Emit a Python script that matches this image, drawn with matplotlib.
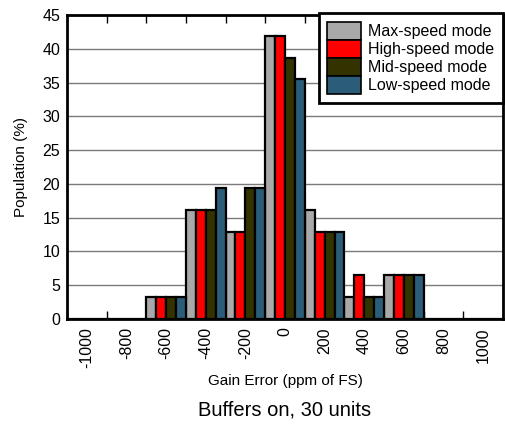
import numpy as np
import matplotlib.pyplot as plt

plt.rcParams['font.family'] = ['Liberation Sans', 'DejaVu Sans']

# Gain error bins (ppm of FS) and population (%) per speed mode
bins = [-1000, -800, -600, -400, -200, 0, 200, 400, 600, 800, 1000]
max_speed = [0, 0, 3.2, 16.1, 12.9, 41.9, 16.1, 3.2, 6.5, 0, 0]
high_speed = [0, 0, 3.2, 16.1, 12.9, 41.9, 12.9, 6.5, 6.5, 0, 0]
mid_speed = [0, 0, 3.2, 16.1, 19.4, 38.7, 12.9, 3.2, 6.5, 0, 0]
low_speed = [0, 0, 3.2, 19.4, 19.4, 35.5, 12.9, 3.2, 6.5, 0, 0]

series = [
    ("Max-speed mode", max_speed, "#a9a9a9"),
    ("High-speed mode", high_speed, "#ff0000"),
    ("Mid-speed mode", mid_speed, "#333300"),
    ("Low-speed mode", low_speed, "#2b5c78"),
]

fig = plt.figure(figsize=(5.05, 4.24), dpi=100)
ax = fig.add_axes([67 / 505, 105 / 424, 436 / 505, 304 / 424])

x = np.arange(len(bins))
w = 0.25
for i, (name, vals, col) in enumerate(series):
    ax.bar(x - 0.375 + i * w, vals, width=w, color=col, edgecolor="black",
           linewidth=1.6, label=name, zorder=3)

ax.set_xlim(-0.5, len(bins) - 0.5)
ax.set_ylim(0, 45)
ax.set_yticks(np.arange(0, 46, 5))
ax.yaxis.grid(True, color="#7a7a7a", linewidth=1.0, zorder=0)
ax.set_axisbelow(True)

ax.set_xticks(x)
ax.set_xticklabels([str(b) for b in bins], rotation=90, fontsize=11.5)
ax.set_xticks(np.arange(0.5, len(bins) - 1, 1), minor=True)
ax.tick_params(axis="x", which="major", length=0, pad=6)
ax.tick_params(axis="x", which="minor", direction="in", length=6,
               top=True, bottom=True, width=1)
ax.tick_params(axis="y", length=0, labelsize=11.5, pad=5)

for s in ax.spines.values():
    s.set_linewidth(2)

ax.set_xlabel("Gain Error (ppm of FS)", fontsize=11, labelpad=4)
ax.set_ylabel("Population (%)", fontsize=11, labelpad=10)

# patches touch each other: handleheight sized so patch == row height
leg = ax.legend(loc="upper right", bbox_to_anchor=(1.0, 1.006),
                borderaxespad=0, fancybox=False, framealpha=1,
                edgecolor="black", fontsize=11.5, labelspacing=0,
                handlelength=2.1, handleheight=1.354, handletextpad=0.45,
                borderpad=0.55)
leg.get_frame().set_linewidth(2)
for h in leg.legend_handles:
    h.set_linewidth(1.2)

fig.text(285 / 505, 1 - 410 / 424, "Buffers on, 30 units", fontsize=14.5,
         ha="center", va="center")

fig.savefig("out.png", dpi=100)
plt.close()
